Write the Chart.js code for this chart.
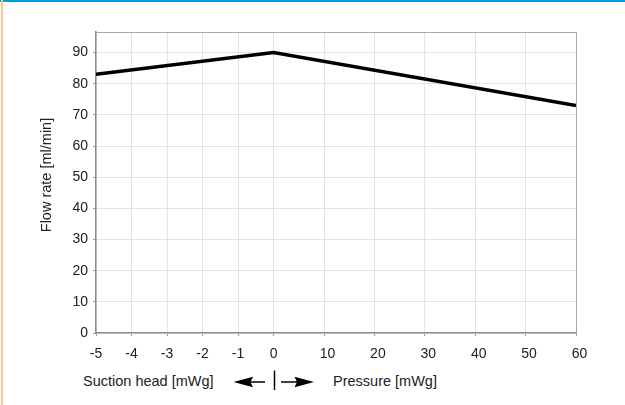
<!DOCTYPE html>
<html>
<head>
<meta charset="utf-8">
<script src="https://cdn.jsdelivr.net/npm/chart.js@4.4.1/dist/chart.umd.min.js"></script>
<style>
  html, body { margin: 0; padding: 0; background: #fff; }
  #wrap { position: relative; width: 625px; height: 405px; overflow: hidden; background: #fff;
          font-family: "Liberation Sans", Arial, sans-serif; color: #222; }
  .bar-top { position: absolute; left: 0; top: 0; width: 625px; height: 2px; background: #0099dd; }
  .bar-left { position: absolute; left: 1px; top: 0; width: 2px; height: 405px; background: #ffc78a; }
  #chartBox { position: absolute; left: 0; top: 0; width: 625px; height: 365px; }
  .xlab { position: absolute; font-size: 14.5px; line-height: 17px; white-space: nowrap; }
  .ytitle { position: absolute; left: 46px; top: 175px; font-size: 14.5px; line-height: 17px;
            white-space: nowrap; transform: translate(-50%, -50%) rotate(-90deg); }
  svg { position: absolute; left: 0; top: 0; }
</style>
</head>
<body>
<div id="wrap">
  <div class="bar-top"></div>
  <div class="bar-left"></div>
  <div id="chartBox"><canvas id="c" width="625" height="365"></canvas></div>
  <div class="ytitle" id="ytitle"></div>
  <div class="xlab" style="left:83px;top:373px;">Suction head [mWg]</div>
  <div class="xlab" style="left:333px;top:373px;">Pressure [mWg]</div>
  <svg width="625" height="405">
    <polygon points="233.5,382 253,376.8 250.5,382 253,387.2" fill="#000"/>
    <line x1="250" y1="382" x2="265" y2="382" stroke="#000" stroke-width="1.5"/>
    <line x1="274.5" y1="370.5" x2="274.5" y2="390" stroke="#000" stroke-width="1.5"/>
    <line x1="281" y1="382" x2="297" y2="382" stroke="#000" stroke-width="1.5"/>
    <polygon points="314,382 294.5,376.8 297,382 294.5,387.2" fill="#000"/>
  </svg>
</div>
<script>
// ---- data ----
const pressureValues = [-5, 0, 60];          // mWg (negative = suction head)
const flowRates = [83, 90, 73];               // ml/min
const xTickValues = [-5, -4, -3, -2, -1, 0, 10, 20, 30, 40, 50, 60];
const yMin = 0;
const yMax = 96.6;
const yStep = 10;
const yTitle = 'Flow rate [ml/min]';

document.getElementById('ytitle').textContent = yTitle;

// Split linear scale: suction part (min..0) and pressure part (0..max) with different spacing
class SplitScale extends Chart.LinearScale {
  buildTicks() {
    return xTickValues.map(v => ({ value: v }));
  }
  getPixelForValue(value) {
    if (value === null || value === undefined) return NaN;
    const f = this.options.splitFraction;
    let dec;
    if (value <= 0) dec = f * (value - this.min) / (0 - this.min);
    else dec = f + (1 - f) * value / this.max;
    return this.getPixelForDecimal(dec);
  }
  getValueForPixel(pixel) {
    const f = this.options.splitFraction;
    const dec = this.getDecimalForPixel(pixel);
    if (dec <= f) return this.min + (dec / f) * (0 - this.min);
    return (dec - f) / (1 - f) * this.max;
  }
}
SplitScale.id = 'split';
SplitScale.defaults = Chart.LinearScale.defaults;
Chart.register(SplitScale);

const framePlugin = {
  id: 'frame',
  beforeDatasetsDraw(chart) {
    const { ctx, chartArea: a } = chart;
    ctx.save();
    ctx.strokeStyle = '#a8a8a8';
    ctx.lineWidth = 1;
    ctx.beginPath();
    ctx.moveTo(a.left, a.top + 0.5);
    ctx.lineTo(a.right + 0.5, a.top + 0.5);
    ctx.lineTo(a.right + 0.5, a.bottom);
    ctx.stroke();
    ctx.restore();
  }
};

const font = { family: '"Liberation Sans", Arial, sans-serif', size: 14 };

new Chart(document.getElementById('c'), {
  type: 'line',
  data: {
    datasets: [{
      data: pressureValues.map((x, i) => ({ x: x, y: flowRates[i] })),
      borderColor: '#000',
      borderWidth: 3.5,
      pointRadius: 0,
      tension: 0,
      fill: false
    }]
  },
  options: {
    responsive: false,
    animation: false,
    devicePixelRatio: 1,
    layout: { padding: { left: 37, top: 32, right: 49, bottom: 0 } },
    plugins: { legend: { display: false }, tooltip: { enabled: false } },
    scales: {
      x: {
        type: 'split',
        min: -5,
        max: 60,
        splitFraction: 0.37,
        afterFit(s) { s.height = 32; },
        grid: { color: '#e4e4e4', tickColor: '#999', tickLength: 3 },
        border: { color: '#8c8c8c', width: 1.5 },
        ticks: { font: font, color: '#222', padding: 10, maxRotation: 0, autoSkip: false,
                 callback: v => (v > 0 ? '\u2002' + v : String(v)) }
      },
      y: {
        min: yMin,
        max: yMax,
        afterFit(s) { s.width = 59; },
        grid: { color: '#e4e4e4', tickColor: '#999', tickLength: 3 },
        border: { color: '#8c8c8c', width: 1.5 },
        ticks: { font: font, color: '#222', padding: 5, stepSize: yStep, includeBounds: false }
      }
    }
  },
  plugins: [framePlugin]
});
</script>
</body>
</html>
